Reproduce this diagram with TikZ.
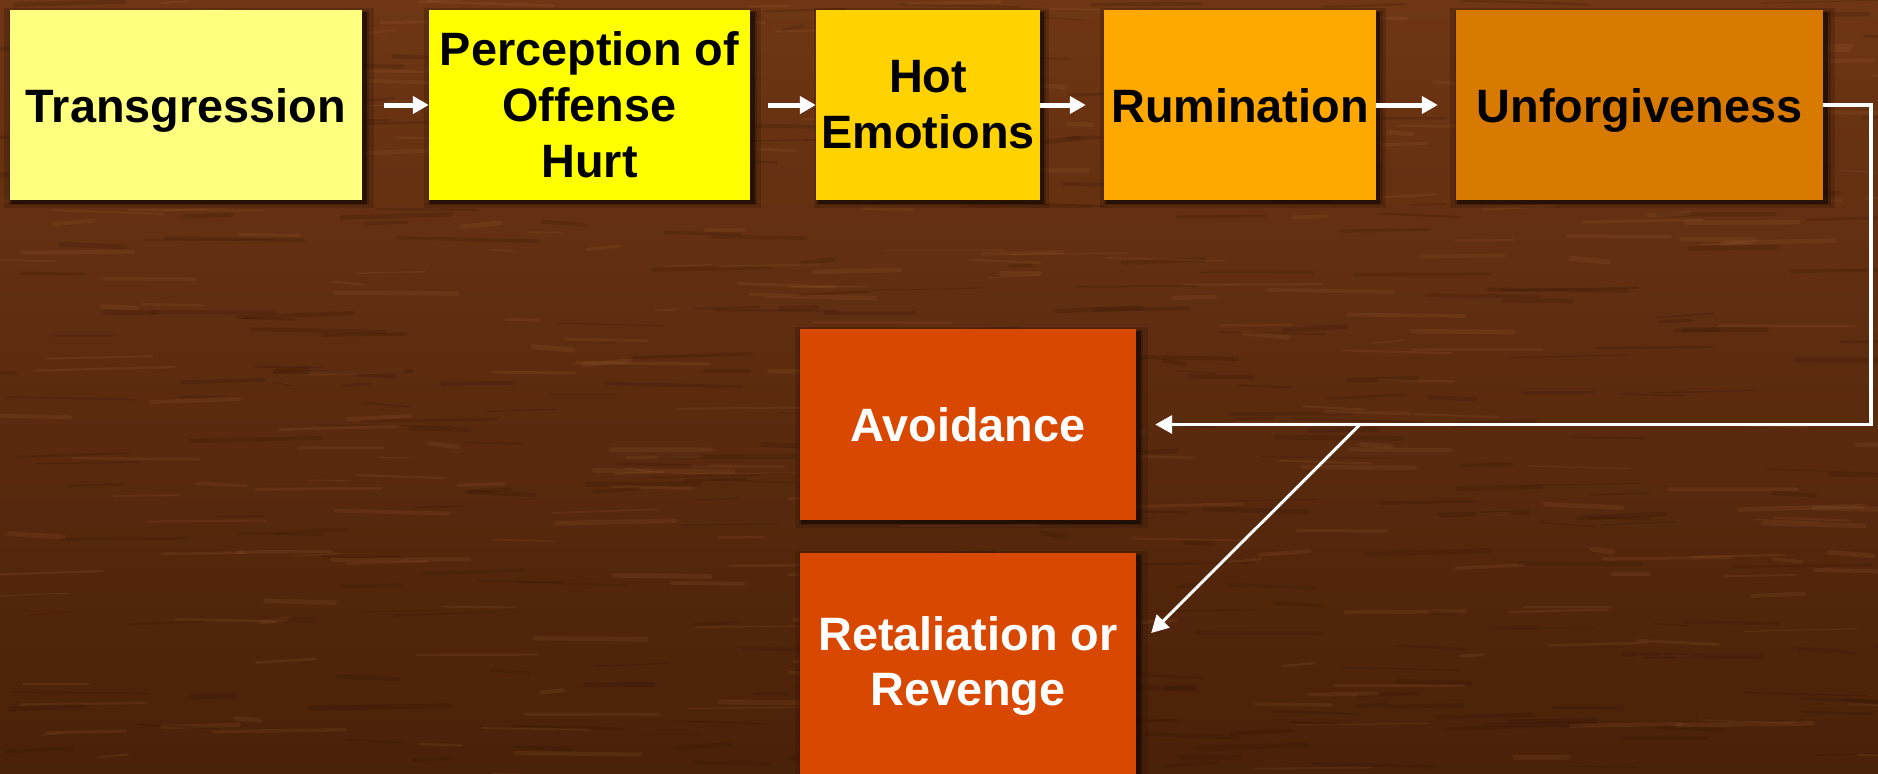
\documentclass[tikz,border=0pt]{standalone}
\usepackage{fontspec}
\setmainfont{Liberation Sans}
\usetikzlibrary{arrows.meta,shadows}

\definecolor{barktop}{HTML}{6E3614}
\definecolor{barkmid}{HTML}{7A431B}
\definecolor{barklow}{HTML}{4A2109}
\definecolor{grainlight}{HTML}{B47445}
\definecolor{graindark}{HTML}{2E1204}
\definecolor{transfill}{HTML}{FFFF80}
\definecolor{percfill}{HTML}{FFFF00}
\definecolor{hotfill}{HTML}{FFD200}
\definecolor{rumfill}{HTML}{FFA800}
\definecolor{unffill}{HTML}{D97A00}
\definecolor{outfill}{HTML}{D84800}

\begin{document}
\begin{tikzpicture}[
  x=1bp, y=-1bp,
  stage/.style={inner sep=0pt, minimum height=190bp, align=center,
    font=\bfseries\fontsize{47}{56}\selectfont,
    general shadow={fill=graindark, opacity=0.25, shadow scale=1.05,
      shadow xshift=3bp, shadow yshift=-3bp},
    general shadow={fill=graindark, opacity=0.35, shadow scale=1.025,
      shadow xshift=3bp, shadow yshift=-3bp},
    general shadow={fill=black, opacity=0.45, shadow scale=1.01,
      shadow xshift=3bp, shadow yshift=-3bp}},
  oneline/.style={text height=34bp, text depth=0pt},
  outcome/.style={stage, fill=outfill, text=white, minimum width=336bp},
  flow/.style={white, line width=5bp, -{Triangle[length=16bp,width=17bp]}},
  branch/.style={white, line width=3.5bp, -{Triangle[length=17bp,width=18bp]}}
]
  \useasboundingbox (0,0) rectangle (1878,774);
  % wood background
  \shade[top color=barktop, middle color=barkmid, bottom color=barklow]
    (0,0) rectangle (1878,774);
  \pgfmathsetseed{11}
  \foreach \i in {1,...,650} {
    \pgfmathsetmacro\gx{rnd*1900-20}
    \pgfmathsetmacro\gy{rnd*774}
    \pgfmathsetmacro\gl{20+rnd*120}
    \pgfmathsetmacro\gw{1+rnd*4}
    \pgfmathsetmacro\gc{rnd>0.5 ? 1 : 0}
    \ifdim\gc pt>0.5pt
      \draw[grainlight, opacity=0.13, line width=\gw bp, line cap=round]
        (\gx,\gy) -- ++(\gl,rnd*8-4);
    \else
      \draw[graindark, opacity=0.2, line width=\gw bp, line cap=round]
        (\gx,\gy) -- ++(\gl,rnd*8-4);
    \fi
  }

  % stages
  \node[stage, oneline, fill=transfill, minimum width=352bp] (trans) at (186,105) {Transgression};
  \node[stage, fill=percfill, minimum width=321bp] (perc) at (589.5,105)
    {Perception of\\Offense\\Hurt};
  \node[stage, fill=hotfill, minimum width=224bp] (hot) at (928,105) {Hot\\Emotions};
  \node[stage, oneline, fill=rumfill, minimum width=272bp] (rum) at (1240,105) {Rumination};
  \node[stage, oneline, fill=unffill, minimum width=367bp] (unf) at (1639.5,105) {Unforgiveness};

  % outcomes
  \node[outcome, oneline, minimum height=191bp] (avoid) at (968,424.5) {Avoidance};
  \node[outcome, minimum height=226bp] (retal) at (968,666) {Retaliation or\\Revenge};

  % connectors
  \draw[flow, shorten <=22bp] (trans) -- (perc);
  \draw[flow, shorten <=18bp] (perc) -- (hot);
  \draw[flow, shorten >=18bp] (hot) -- (rum);
  \draw[flow, shorten >=18bp] (rum) -- (unf);

  \coordinate (turn) at ([xshift=48bp]unf.east |- avoid.east);
  \coordinate (fork) at (1360,424.5);
  \draw[branch, shorten >=19bp] (unf.east) -| (turn) -- (avoid.east);
  \draw[branch, line width=3bp] (fork) -- ([shift={(15,-33)}]retal.east);
\end{tikzpicture}
\end{document}
